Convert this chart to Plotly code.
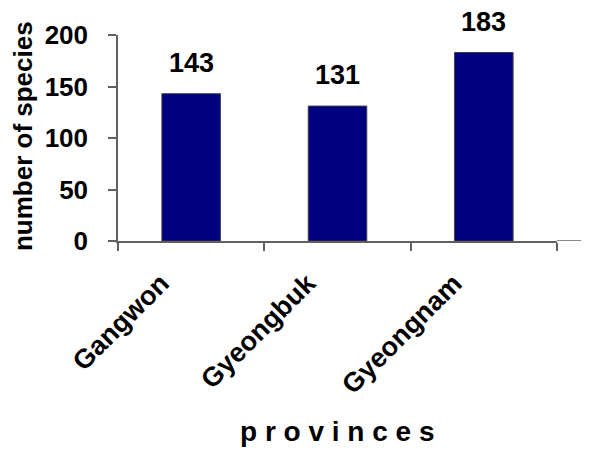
import plotly.graph_objects as go

provinces = ["Gangwon", "Gyeongbuk", "Gyeongnam"]
species = [143, 131, 183]
y_ticks = [0, 50, 100, 150, 200]

FONT = "Liberation Sans, Arial, sans-serif"
AXIS_COLOR = "#606060"
W, H = 581, 444
ML, MR, MT, MB = 110, 32, 21, 211
PW = W - ML - MR
PH = H - MT - MB

fig = go.Figure()
fig.add_trace(go.Bar(
    x=provinces,
    y=species,
    width=0.4,
    marker=dict(color="#000080", line=dict(color="#404040", width=1)),
    hoverinfo="x+y",
))

for p, v in zip(provinces, species):
    fig.add_annotation(
        x=p, y=v, text=str(v), showarrow=False,
        yanchor="bottom", yshift=14,
        font=dict(family=FONT, size=27, color="black", weight="bold"),
    )

# axis titles
fig.add_annotation(
    xref="paper", yref="paper", x=(337 - 8 - ML) / PW, y=(MT + PH - (437 - 8)) / PH,
    xanchor="center", yanchor="middle", showarrow=False,
    text="p r o v i n c e s",
    font=dict(family=FONT, size=28, color="black", weight="bold"),
)
fig.add_annotation(
    xref="paper", yref="paper", x=(23 - 8 - ML) / PW, y=(MT + PH - (133 - 8)) / PH,
    xanchor="center", yanchor="middle", showarrow=False, textangle=-90,
    text="number of species",
    font=dict(family=FONT, size=26, color="black", weight="bold"),
)

# extension of the category axis line to the right edge
fig.add_shape(type="line", xref="paper", yref="y", x0=1, x1=(W - ML) / PW, y0=0, y1=0,
              line=dict(color=AXIS_COLOR, width=1.5))

fig.update_layout(
    width=W, height=H,
    margin=dict(l=ML, r=MR, t=MT, b=MB),
    paper_bgcolor="white", plot_bgcolor="white",
    showlegend=False,
    font=dict(family=FONT, color="black"),
)
fig.update_xaxes(
    type="category", range=[-0.5, 2.5],
    tickson="boundaries", ticks="outside", ticklen=8, tickcolor=AXIS_COLOR, tickwidth=1.5,
    showline=True, linecolor=AXIS_COLOR, linewidth=1.5,
    showgrid=False, tickangle=-45,
    ticklabelshift=-30, ticklabelstandoff=14,
    tickfont=dict(family=FONT, size=27, color="black", weight="bold"),
)
fig.update_yaxes(
    range=[0, 200], tickvals=y_ticks,
    ticks="outside", ticklen=8, tickcolor=AXIS_COLOR, tickwidth=1.5,
    showline=True, linecolor=AXIS_COLOR, linewidth=1.5,
    showgrid=False, zeroline=False, ticklabelstandoff=15,
    tickfont=dict(family=FONT, size=26, color="black", weight="bold"),
)

fig.write_html("out.html")
